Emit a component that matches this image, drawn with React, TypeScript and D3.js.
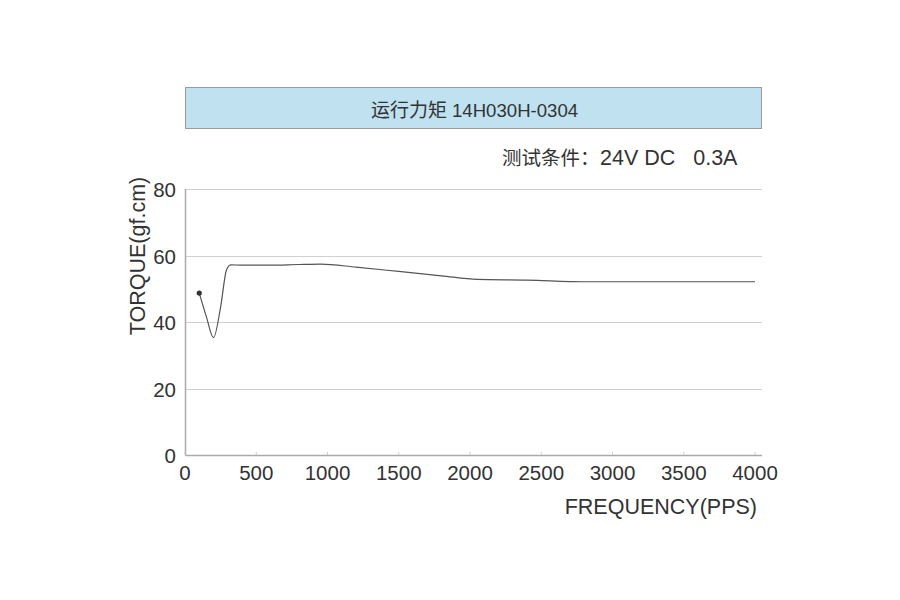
import React from "react";
import * as d3 from "d3";

const titleCn = "运行力矩";
const titleCode = "14H030H-0304";
const subtitleCn = "测试条件：";
const subtitleLatin = "24V DC   0.3A";
const xLabel = "FREQUENCY(PPS)";
const yLabel = "TORQUE(gf.cm)";
const xTicks = [0, 500, 1000, 1500, 2000, 2500, 3000, 3500, 4000];
const yTicks = [0, 20, 40, 60, 80];
const freq = [100, 150, 200, 250, 290, 320, 400, 600, 800, 950, 1200, 1500, 1800, 2050, 2400, 2800, 3200, 4000];
const torque = [48.7, 41.6, 35.3, 44.5, 55.5, 57.2, 57.1, 57.1, 57.3, 57.4, 56.5, 55.2, 53.9, 52.8, 52.6, 52.1, 52.1, 52.1];

const FONT = "'Liberation Sans', Arial, 'Noto Sans CJK SC', sans-serif";
const CJK = "'Noto Sans CJK SC', sans-serif";

export default function App() {
  const W = 900, H = 600;
  const x = d3.scaleLinear().domain([0, 4000]).range([185, 755]);
  const y = d3.scaleLinear().domain([0, 80]).range([455, 189]);
  const pts: [number, number][] = freq.map((f, i) => [f, torque[i]]);
  const line = d3.line<[number, number]>()
    .x(d => x(d[0]))
    .y(d => y(d[1]))
    .curve(d3.curveMonotoneX);
  const right = 762;
  return (
    <svg width={W} height={H} style={{ position: "absolute", left: 0, top: 0, background: "#fff" }} fontFamily={FONT}>
      <rect x={185.5} y={87.5} width={576} height={41} fill="#bfe1f0" stroke="#9a9a9a" strokeWidth={1} />
      <text x={371} y={117} fontSize={18.6} fill="#333" xmlSpace="preserve">
        <tspan fontFamily={CJK} fontSize={19}>{titleCn}</tspan>
        <tspan x={452}>{titleCode}</tspan>
      </text>
      <text x={502} y={165} fill="#333" xmlSpace="preserve" style={{ whiteSpace: "pre" }}>
        <tspan fontFamily={CJK} fontSize={19.5}>{subtitleCn}</tspan>
        <tspan x={600} fontSize={21.5}>{subtitleLatin}</tspan>
      </text>
      {yTicks.filter(t => t > 0).map(t => (
        <line key={t} x1={185} x2={right} y1={Math.round(y(t)) + 0.5} y2={Math.round(y(t)) + 0.5} stroke="#d0d0d0" strokeWidth={1} />
      ))}
      <line x1={185.5} x2={185.5} y1={189} y2={455} stroke="#aaa" strokeWidth={1.5} />
      <line x1={185} x2={right} y1={455.5} y2={455.5} stroke="#aaa" strokeWidth={1.5} />
      {xTicks.map(t => (
        <line key={"t" + t} x1={x(t)} x2={x(t)} y1={452} y2={455} stroke="#ccc" strokeWidth={1} />
      ))}
      {yTicks.map(t => (
        <text key={"y" + t} x={176} y={y(t) + 8} textAnchor="end" fontSize={20.5} fill="#333">{t}</text>
      ))}
      {xTicks.map(t => (
        <text key={"x" + t} x={x(t)} y={480} textAnchor="middle" fontSize={20.5} fill="#333">{t}</text>
      ))}
      <text x={757} y={514} textAnchor="end" fontSize={21.5} fill="#333">{xLabel}</text>
      <text transform={`translate(145,256) rotate(-90)`} textAnchor="middle" fontSize={21.5} fill="#333">{yLabel}</text>
      <path d={line(pts) || ""} fill="none" stroke="#555" strokeWidth={1.2} />
      <circle cx={x(freq[0])} cy={y(torque[0])} r={2.6} fill="#333" />
    </svg>
  );
}
